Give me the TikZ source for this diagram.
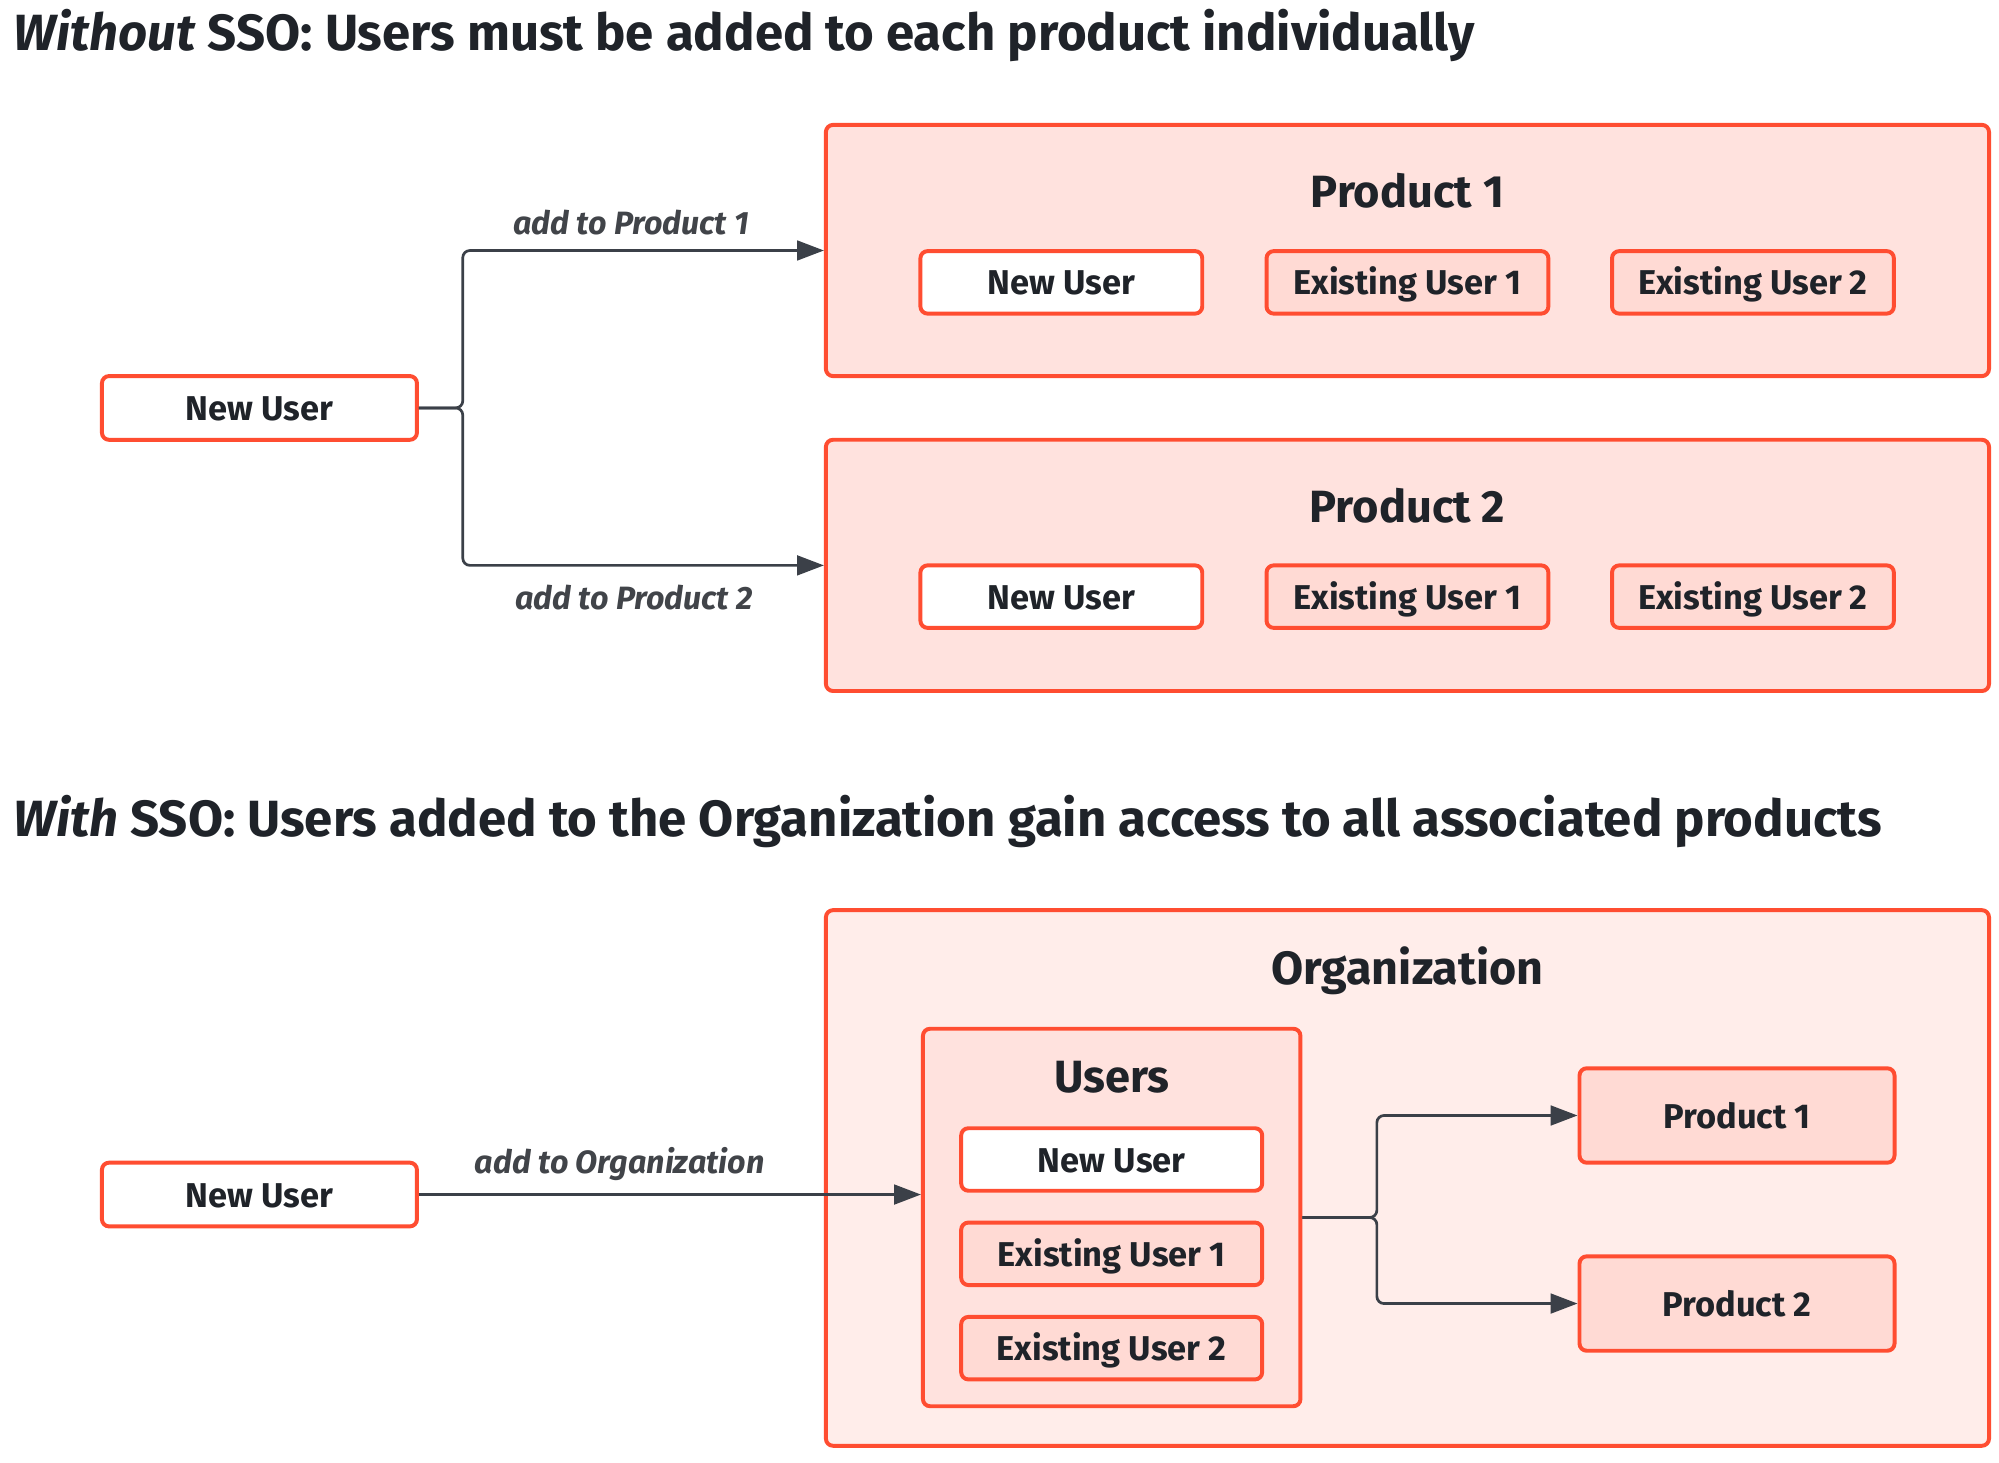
\documentclass[tikz,border=0pt]{standalone}
\usepackage{fontspec}
\setmainfont{Fira Sans}
\usetikzlibrary{arrows.meta}

\definecolor{ssored}{HTML}{FF4D31}
\definecolor{ssopink}{HTML}{FFE2DE}
\definecolor{ssolight}{HTML}{FFEDEA}
\definecolor{ssouser}{HTML}{FFDAD4}
\definecolor{ssoink}{HTML}{1F2329}
\definecolor{ssoline}{HTML}{3B4048}

\def\px{0.3557pt}

\tikzset{
  box/.style={draw=ssored, line width=1.1pt, rounded corners=2pt, fill=white,
    text=ssoink, inner sep=0pt, font=\fontsize{9.6}{11}\selectfont\bfseries,
    text height=0.7em, text depth=0pt},
  userbox/.style={box, minimum width=221*\px, minimum height=49*\px},
  olduser/.style={userbox, fill=ssouser},
  container/.style={box, fill=ssopink},
  heading/.style={text=ssoink, font=\fontsize{12.6}{14}\selectfont\bfseries, inner sep=0pt},
  title/.style={text=ssoink, font=\fontsize{14.2}{16}\selectfont\bfseries, inner sep=0pt, anchor=base west},
  edgelabel/.style={text=ssoink!85, font=\fontsize{9}{11}\selectfont\bfseries\itshape, inner sep=0pt},
  conn/.style={draw=ssoline, line width=0.75pt, rounded corners=2pt},
  arr/.style={conn, -{Triangle[length=7.5pt, width=5.5pt]}},
}

\begin{document}
\begin{tikzpicture}[x=0.0125cm, y=-0.0125cm]
  \useasboundingbox (0,0) rectangle (1568,1147);

  % without sso
  \node[title] (t1) at (10,40) {\textit{Without} SSO: Users must be added to each product individually};

  \node[box, minimum width=247*\px, minimum height=50*\px] (nu1) at (203.5,320) {New User};

  \node[container, minimum width=912*\px, minimum height=197*\px] (p1) at (1104,196.5) {};
  \node[heading, anchor=base] (p1t) at (1104,163) {Product 1};
  \node[userbox] (p1n) at (832.5,221.5) {New User};
  \node[olduser] (p1a) at (1104,221.5) {Existing User 1};
  \node[olduser] (p1b) at (1375,221.5) {Existing User 2};

  \node[container, minimum width=912*\px, minimum height=197*\px] (p2) at (1104,443.5) {};
  \node[heading, anchor=base] (p2t) at (1104,410) {Product 2};
  \node[userbox] (p2n) at (832.5,468) {New User};
  \node[olduser] (p2a) at (1104,468) {Existing User 1};
  \node[olduser] (p2b) at (1375,468) {Existing User 2};

  \coordinate (j1) at (363,320);
  \draw[arr] (nu1.east) -- (j1) |- node[pos=0.733, above=4pt, edgelabel] {add to Product 1} (p1.west);
  \draw[arr] (nu1.east) -- (j1) |- node[pos=0.737, below=5pt, edgelabel] {add to Product 2} (p2.west);

  % with sso
  \node[title] (t2) at (10,656) {\textit{With} SSO: Users added to the Organization gain access to all associated products};

  \node[box, minimum width=247*\px, minimum height=50*\px] (nu2) at (203.5,937) {New User};

  \node[container, fill=ssolight, minimum width=912*\px, minimum height=420*\px] (org) at (1104,924) {};
  \node[heading, anchor=base, font=\fontsize{13}{15}\selectfont\bfseries] (orgt) at (1104,772) {Organization};

  \node[container, minimum width=296*\px, minimum height=296*\px] (users) at (872,955) {};
  \node[heading, anchor=base] (userst) at (872,857) {Users};
  \node[userbox, minimum width=236*\px] (un) at (872,909.5) {New User};
  \node[olduser, minimum width=236*\px] (ua) at (872,983.5) {Existing User 1};
  \node[olduser, minimum width=236*\px] (ub) at (872,1057.5) {Existing User 2};

  \node[box, fill=ssouser, minimum width=247*\px, minimum height=74*\px] (op1) at (1362.5,875) {Product 1};
  \node[box, fill=ssouser, minimum width=247*\px, minimum height=74*\px] (op2) at (1362.5,1022.5) {Product 2};

  \draw[arr] (nu2.east) -- node[pos=0.4, above=3.5pt, edgelabel] {add to Organization} (users.west |- nu2.east);

  \coordinate (j2) at (1080,955);
  \draw[arr] (users.east) -- (j2) |- (op1.west);
  \draw[arr] (users.east) -- (j2) |- (op2.west);
\end{tikzpicture}
\end{document}
